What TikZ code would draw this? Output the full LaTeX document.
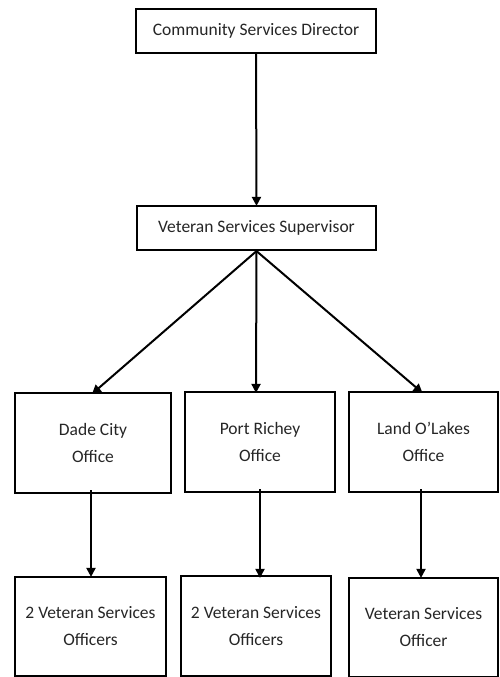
\documentclass[tikz,border=0pt]{standalone}
\usepackage{fontspec}
\setmainfont{Carlito}
\usetikzlibrary{arrows.meta}
\begin{document}
\begin{tikzpicture}[x=1pt,y=-1pt,
  box/.style={draw=black,line width=2.2pt,fill=white,inner sep=0pt,align=center,font=\fontsize{17.5}{27}\selectfont,text=black!85},
  conn/.style={draw=black,line width=2pt,-{Triangle[length=9pt,width=9pt]}}]
\useasboundingbox (0,0) rectangle (499,677);
\node[box,minimum width=240pt,minimum height=44pt] (dir) at (256,31) {Community Services Director};
\node[box,minimum width=239pt,minimum height=44pt] (sup) at (256.5,228) {Veteran Services Supervisor};
\node[box,minimum width=156pt,minimum height=100pt] (dade) at (93,443) {Dade City\\Office};
\node[box,minimum width=150pt,minimum height=100pt] (port) at (260,442) {Port Richey\\Office};
\node[box,minimum width=149pt,minimum height=100pt] (land) at (423.5,442) {Land O’Lakes\\Office};
\node[box,minimum width=151pt,minimum height=99pt] (o1) at (90.5,626.5) {2 Veteran Services\\Officers};
\node[box,minimum width=150pt,minimum height=100pt] (o2) at (256,626) {2 Veteran Services\\Officers};
\node[box,minimum width=149pt,minimum height=99pt] (o3) at (423.5,627.5) {Veteran Services\\Officer};
\draw[conn] (dir.south) -- ([yshift=-1pt]sup.north);
\draw[conn] (sup.south) -- ([xshift=-1pt,yshift=-2pt]dade.north);
\draw[conn] (sup.south) -- ([xshift=-4pt,yshift=-2pt]port.north);
\draw[conn] (sup.south) -- ([xshift=-1pt,yshift=-2pt]land.north);
\draw[conn] ([xshift=-2pt,yshift=4pt]dade.south) -- ([xshift=0.5pt,yshift=-1pt]o1.north);
\draw[conn] ([yshift=4pt]port.south) -- ([xshift=4pt,yshift=-3pt]o2.north);
\draw[conn] ([xshift=-2.5pt,yshift=4pt]land.south) -- ([xshift=-2.5pt,yshift=-1pt]o3.north);
\end{tikzpicture}
\end{document}
